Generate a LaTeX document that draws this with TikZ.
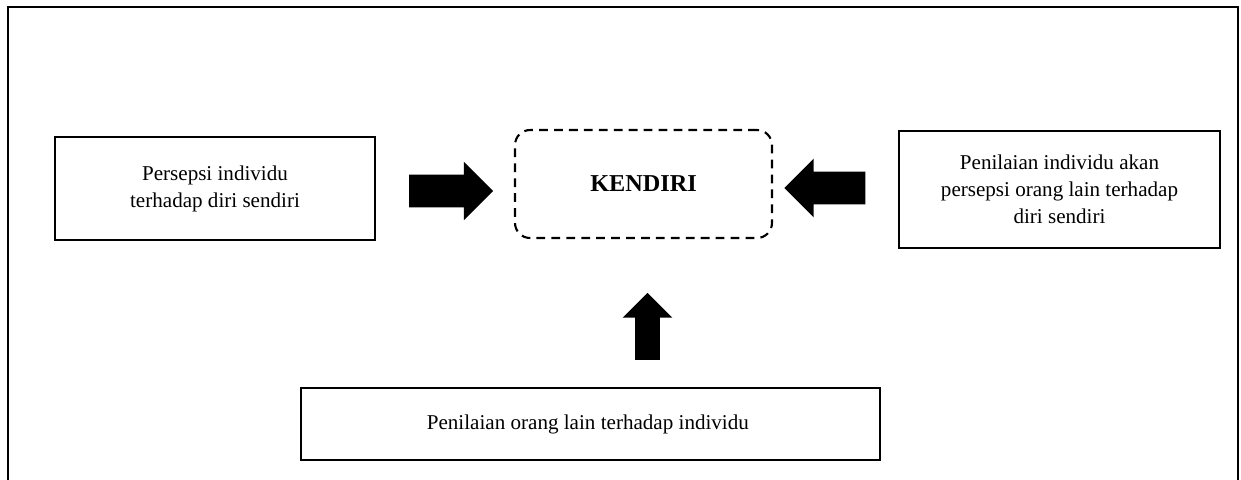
\documentclass[tikz,border=0pt]{standalone}
\usepackage{fontspec}
\setmainfont{Liberation Serif}
\usetikzlibrary{positioning,shapes.arrows}

\begin{document}
\begin{tikzpicture}[x=0.02cm, y=-0.02cm,
    box/.style = { draw, line width=1pt, align=center, font=\fontsize{12}{15.3}\selectfont },
    selfbox/.style = { draw, dash pattern=on 5pt off 3.5pt, line width=1.2pt,
                       rounded corners=0.3cm, font=\bfseries\fontsize{13.8}{16}\selectfont },
    blockarrow/.style = { single arrow, fill=black, inner xsep=0pt, inner ysep=0.32cm,
                          single arrow head extend=0.26cm }]
      \useasboundingbox (0,0) rectangle (1241,480);
      % frame
      \draw [line width=1.3pt] (8,490) -- (8,7) -- (1238,7) -- (1238,490);

      \node [selfbox, minimum width=5.14cm, minimum height=2.16cm] (kendiri) at (643.5,184) { KENDIRI };
      \node [box, minimum width=6.4cm, minimum height=2.06cm] (persepsi) at (215,188.5)
        { Persepsi individu \\ terhadap diri sendiri };
      \node [box, minimum width=6.42cm, minimum height=2.34cm] (penilaianind) at (1059.5,189.5)
        { Penilaian individu akan \\ persepsi orang lain terhadap \\ diri sendiri };
      \node [box, minimum width=11.58cm, minimum height=1.44cm] (penilaianorg) at (590.5,424)
        { Penilaian orang lain terhadap individu };

      % arrows into the self
      \node [blockarrow, minimum height=1.68cm] (arrleft) at (443,191) {};
      \node [blockarrow, minimum height=1.62cm, rotate=180] (arrright) at (833,188) {};
      \node [blockarrow, minimum height=1.34cm, inner ysep=0.24cm, single arrow head extend=0.25cm,
             rotate=90] (arrbottom) at (647.5,332.5) {};
\end{tikzpicture}
\end{document}
